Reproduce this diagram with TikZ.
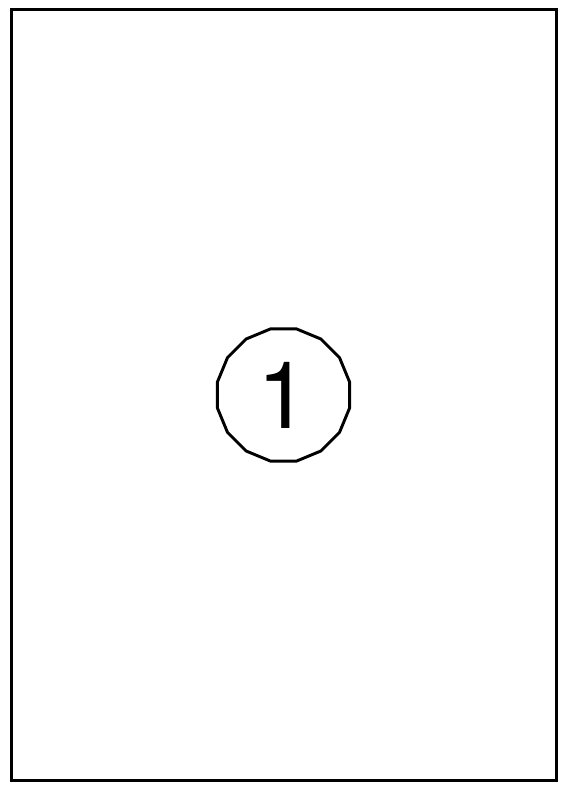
\documentclass[tikz,border=0pt]{standalone}
\usepackage{fontspec}
\newfontfamily\labelfont{TeX Gyre Heros}
\usetikzlibrary{shapes.geometric}
\begin{document}
\begin{tikzpicture}[x=0.75pt,y=-0.75pt,
  frame/.style={draw=black,line width=2.25pt},
  marker/.style={draw=black,line width=2.2pt,regular polygon,regular polygon sides=16,minimum size=101pt,inner sep=0pt}]
\useasboundingbox (0,0) rectangle (564,802);
\node[frame,rectangle,minimum width=545*0.75pt,minimum height=770*0.75pt,inner sep=0pt] (page) at (283.5,395) {};
\node[marker] (circ) at (283.5,395) {};
\node[anchor=base,inner sep=0pt,font=\labelfont\fontsize{70}{70}\selectfont] (num) at (283,428) {1};
\end{tikzpicture}
\end{document}
